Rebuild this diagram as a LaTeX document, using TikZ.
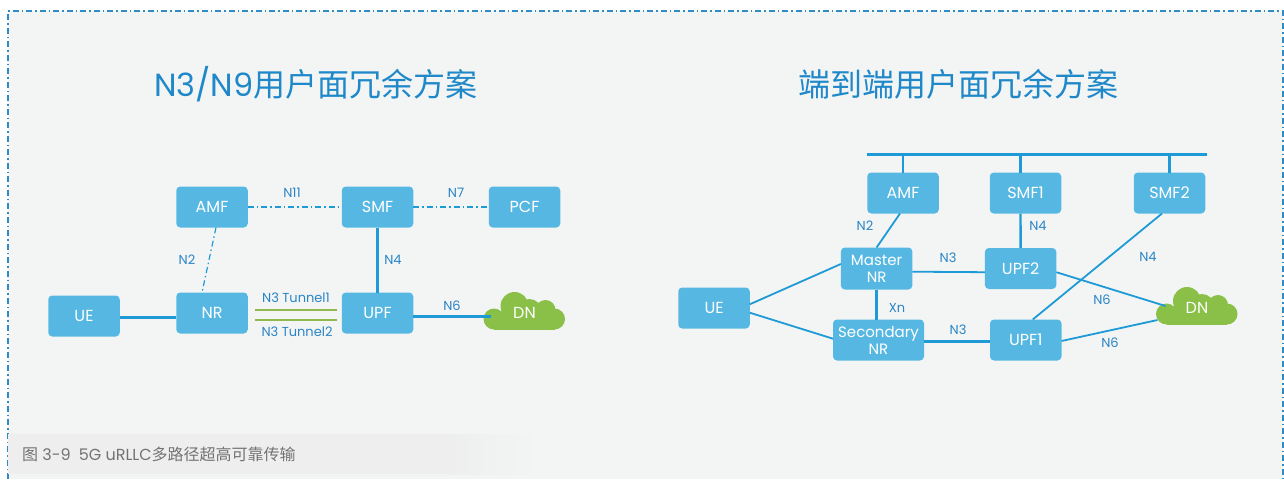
\documentclass[tikz,border=0pt]{standalone}
\usepackage{fontspec}
\usepackage{xcolor}
\usepackage{tikz}
\usetikzlibrary{positioning, calc}
\setmainfont{Poppins}
\newfontfamily\cjkfont{Noto Sans CJK SC}
\definecolor{panelgray}{HTML}{F3F5F5}
\definecolor{bandgray}{HTML}{EEEEEE}
\definecolor{boxblue}{HTML}{56B8E2}
\definecolor{lineblue}{HTML}{1E9AD6}
\definecolor{textblue}{HTML}{2A85C6}
\definecolor{titleblue}{HTML}{1F88C9}
\definecolor{borderblue}{HTML}{2E8BC6}
\definecolor{cloudgreen}{HTML}{8AC048}
\definecolor{tunnelgreen}{HTML}{8FB94E}

\begin{document}
\begin{tikzpicture}[
    x=1pt, y=-1pt,
    node distance=33pt,
    nfbox/.style={rectangle, rounded corners=4pt, fill=boxblue, text=white, minimum width=71.5pt, minimum height=41pt, inner sep=0pt, outer sep=0pt, font=\fontsize{16}{20}\selectfont, align=center},
    ranbox/.style={nfbox, font=\fontsize{15}{17}\selectfont},
    cloudtext/.style={text=white, inner sep=0pt, font=\fontsize{16}{20}\selectfont},
    iflabel/.style={text=textblue, inner sep=0pt, font=\fontsize{13}{15}\selectfont},
    headline/.style={text=titleblue, inner sep=0pt, font=\fontsize{32}{38}\selectfont},
    caption/.style={text=black!55, inner sep=0pt, anchor=west, font=\fontsize{16}{18}\selectfont},
    thinlink/.style={draw=lineblue, line width=1.8pt},
    uprightlink/.style={draw=lineblue, line width=2.4pt},
    thicklink/.style={draw=lineblue, line width=3pt},
    ctrllink/.style={draw=lineblue, line width=1.2pt, dash pattern=on 6pt off 3pt on 1.5pt off 3pt},
    tunnel/.style={draw=tunnelgreen, line width=1.8pt},
    dncloud/.pic={
        \fill[cloudgreen] (-30.5,8) circle (10.5) (-10,-5) circle (14) (5,0) circle (12) (21,-1) circle (10) (30,8) circle (10.5);
        \fill[cloudgreen] (-30.5,4) rectangle (30,18.5);
    }
]
\useasboundingbox (0,0) rectangle (1284,479);
\fill[panelgray] (8,11) rectangle (1283,479);
\draw[borderblue, line width=1.3pt, dash pattern=on 6pt off 3pt on 1.5pt off 3pt] (8,479) -- (8,11) -- (1283,11) -- (1283,479);

% caption band
\fill[bandgray] (8,434) rectangle (450,474);
\shade[left color=bandgray, right color=panelgray] (450,434) rectangle (540,474);
\node[caption] (figcaption) at (22,454) {{\cjkfont 图} 3-9\hspace{8pt}5G uRLLC{\cjkfont 多路径超高可靠传输}};

% left scheme
\node[headline] (titleleft) at (316,84) {N3/N9{\cjkfont 用户面冗余方案}};
\node[nfbox] (amfa) at (212,207) {AMF};
\node[nfbox, right=94pt of amfa] (smfa) {SMF};
\node[nfbox, right=75.5pt of smfa] (pcfa) {PCF};
\node[nfbox] (nra) at (212,313) {NR};
\node[nfbox, right=94pt of nra] (upfa) {UPF};
\node[nfbox] (uea) at (84,316) {UE};
\pic at (524.5,311) {dncloud};
\node[cloudtext] (dna) at (524.5,313) {DN};

\draw[thicklink] ([yshift=-1pt]uea.east) -- ([yshift=-4pt]nra.west);
\draw[ctrllink] (amfa) -- (smfa);
\draw[ctrllink] (smfa) -- (pcfa);
\draw[ctrllink] ([xshift=4pt]amfa.south) -- ([xshift=-10pt]nra.north);
\draw[uprightlink] (smfa) -- (upfa);
\draw[tunnel] ([shift={(7,-3)}]nra.east) -- ([shift={(-5,-3)}]upfa.west);
\draw[tunnel] ([shift={(7,7)}]nra.east) -- ([shift={(-5,7)}]upfa.west);
\draw[thicklink] ([yshift=-3pt]upfa.east) -- ([shift={(-22,3)}]dna.west);

\node[iflabel] (labn11) at (292,193) {N11};
\node[iflabel] (labn7) at (456,193) {N7};
\node[iflabel] (labn2) at (187,260) {N2};
\node[iflabel] (labn4) at (393,260) {N4};
\node[iflabel] (labt1) at (296,298) {N3 Tunnel1};
\node[iflabel] (labt2) at (297,332) {N3 Tunnel2};
\node[iflabel] (labn6) at (452,306) {N6};

% right scheme
\node[headline] (titleright) at (958,84) {\cjkfont 端到端用户面冗余方案};
\node[nfbox] (amfb) at (903,193) {AMF};
\node[nfbox, right=51pt of amfb] (smfb) {SMF1};
\node[nfbox, right=72.5pt of smfb] (smfc) {SMF2};
\node[ranbox, minimum height=42pt] (masternr) at (876.6,268.5) {Master\\NR};
\node[nfbox, right=72.5pt of masternr] (upfb) {UPF2};
\node[nfbox] (ueb) at (714,308) {UE};
\node[ranbox, minimum width=91pt] (secnr) at (878.5,340) {Secondary\\NR};
\node[nfbox, right=66pt of secnr] (upfc) {UPF1};
\pic at (1197,306) {dncloud};
\node[cloudtext] (dnb) at (1197,308) {DN};

% service bus
\coordinate (busleft) at (867,154.5);
\coordinate (busright) at (1207,154.5);
\draw[thicklink] (busleft) -- (busright);
\draw[uprightlink] (amfb.north) -- (amfb.north |- busleft);
\draw[uprightlink] ([xshift=-5pt]smfb.north) -- ([xshift=-5pt]smfb.north |- busleft);
\draw[uprightlink] (smfc.north) -- (smfc.north |- busleft);

\draw[thinlink] ([yshift=3.7pt]ueb.east) -- ([yshift=4.5pt]masternr.west);
\draw[thinlink] ([yshift=-4.7pt]ueb.east) -- ([yshift=1.3pt]secnr.west);
\draw[thinlink] ([xshift=-3pt]amfb.south) -- (masternr.north);
\draw[uprightlink] ([xshift=-5pt]smfb.south) -- (upfb.north);
\draw[thinlink] ([xshift=-7.5pt]smfc.south) -- ([xshift=7pt]upfc.north);
\draw[thinlink] ([yshift=-3.2pt]masternr.east) -- ([yshift=-3.7pt]upfb.west);
\draw[thicklink] (masternr.south) -- (masternr.south |- secnr.north);
\draw[thicklink] ([yshift=-1pt]secnr.east) -- ([yshift=-1pt]upfc.west);
\draw[thinlink] ([yshift=-3.7pt]upfb.east) -- ([shift={(-20,-2)}]dnb.west);
\draw[thinlink] ([yshift=-1pt]upfc.east) -- ([shift={(-28,12)}]dnb.west);

\node[iflabel] (labbn2) at (865,226) {N2};
\node[iflabel] (labbn4a) at (1038,226) {N4};
\node[iflabel] (labbn4b) at (1148,257) {N4};
\node[iflabel] (labbn3a) at (948,258) {N3};
\node[iflabel] (labbn6a) at (1102,300) {N6};
\node[iflabel] (labxn) at (897,308) {Xn};
\node[iflabel] (labbn3b) at (958,330) {N3};
\node[iflabel] (labbn6b) at (1110,343) {N6};

\end{tikzpicture}
\end{document}
